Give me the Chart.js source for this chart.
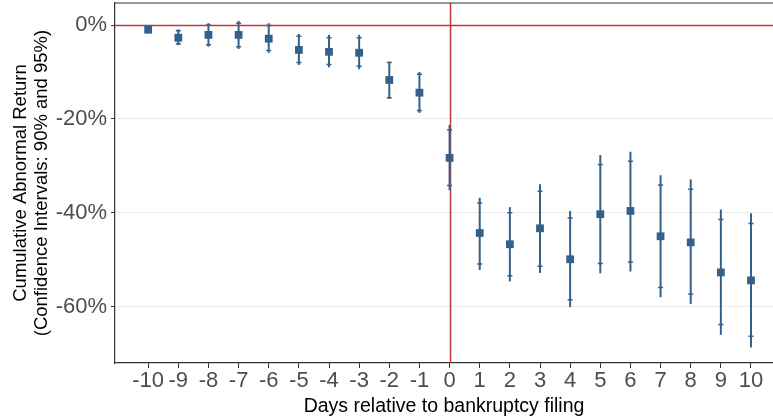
<!DOCTYPE html>
<html>
<head>
<meta charset="utf-8">
<script src="https://cdn.jsdelivr.net/npm/chart.js@4.4.0/dist/chart.umd.min.js"></script>
<style>
    html, body { margin: 0; padding: 0; background: #fff; overflow: hidden; }
    #wrap { width: 773px; height: 417px; }
</style>
</head>
<body>
<div id="wrap"><canvas id="carChart"></canvas></div>
<script>
// Days around the filing and the cumulative abnormal return (%)
const days = [-10, -9, -8, -7, -6, -5, -4, -3, -2, -1, 0, 1, 2, 3, 4, 5, 6, 7, 8, 9, 10];
const car  = [-1.0, -2.7, -2.1, -2.1, -2.9, -5.3, -5.7, -5.9, -11.7, -14.4, -28.3,
              -44.3, -46.7, -43.3, -49.9, -40.3, -39.6, -45.0, -46.3, -52.7, -54.4];
// 95% confidence interval (line)
const lo95 = [-1.4, -4.3, -4.6, -5.1, -5.9, -8.5, -9.0, -9.4, -15.7, -18.7, -35.2,
              -52.2, -54.6, -52.8, -60.1, -52.9, -52.5, -58.0, -59.4, -66.0, -68.7];
const hi95 = [-0.6, -0.9, 0.4, 0.9, 0.4, -1.9, -2.1, -2.1, -7.8, -10.0, -21.3,
              -36.8, -38.8, -33.9, -39.6, -27.7, -27.0, -32.0, -32.9, -39.3, -40.1];
// 90% confidence interval (small ticks)
const lo90 = [-1.3, -4.0, -4.2, -4.6, -5.4, -8.0, -8.4, -8.8, -15.5, -18.2, -34.2,
              -50.9, -53.4, -51.4, -58.5, -50.8, -50.5, -55.9, -57.3, -63.8, -66.3];
const hi90 = [-0.7, -1.2, 0.0, 0.4, -0.1, -2.4, -2.7, -2.7, -8.0, -10.5, -22.3,
              -37.9, -40.0, -35.4, -41.1, -29.7, -29.0, -34.1, -35.0, -41.4, -42.3];
const yTicks = [0, -20, -40, -60];

const blue = '#34618b';
const red = '#c0393b';
const fontFamily = 'Liberation Sans, Arial, sans-serif';

// red reference lines at 0 / 0 and the top edge of the panel
const refLines = {
    id: 'refLines',
    beforeDatasetsDraw(chart) {
        const { ctx, chartArea: a, scales: { x, y } } = chart;
        ctx.save();
        ctx.strokeStyle = red;
        ctx.lineWidth = 1.5;
        const y0 = Math.round(y.getPixelForValue(0)) + 0.5;
        const x0 = Math.round(x.getPixelForValue(0)) + 0.5;
        ctx.beginPath();
        ctx.moveTo(a.left, y0); ctx.lineTo(a.right, y0);
        ctx.moveTo(x0, a.top); ctx.lineTo(x0, a.bottom);
        ctx.stroke();
        ctx.restore();
    },
    afterDraw(chart) {
        const { ctx, chartArea: a } = chart;
        ctx.save();
        ctx.strokeStyle = '#333333';
        ctx.lineWidth = 1.2;
        ctx.beginPath();
        ctx.moveTo(a.left, a.top); ctx.lineTo(a.right, a.top);
        ctx.stroke();
        ctx.restore();
    }
};

// confidence interval bars
const ciBars = {
    id: 'ciBars',
    beforeDatasetsDraw(chart) {
        const { ctx, scales: { x, y } } = chart;
        ctx.save();
        ctx.strokeStyle = blue;
        days.forEach((d, i) => {
            const px = x.getPixelForValue(d);
            ctx.lineWidth = 2;
            ctx.beginPath();
            ctx.moveTo(px, y.getPixelForValue(hi95[i]));
            ctx.lineTo(px, y.getPixelForValue(lo95[i]));
            ctx.stroke();
            ctx.lineWidth = 1.5;
            ctx.beginPath();
            [lo90[i], hi90[i]].forEach(v => {
                const py = y.getPixelForValue(v);
                ctx.moveTo(px - 2.5, py); ctx.lineTo(px + 2.5, py);
            });
            ctx.stroke();
        });
        ctx.restore();
    }
};

new Chart(document.getElementById('carChart'), {
    type: 'scatter',
    data: {
        datasets: [{
            data: days.map((d, i) => ({ x: d, y: car[i] })),
            backgroundColor: blue,
            borderColor: blue,
            pointStyle: 'rect',
            pointRadius: 5.5,
            pointBorderWidth: 0,
            pointHoverRadius: 5.5
        }]
    },
    options: {
        responsive: true,
        maintainAspectRatio: false,
        animation: false,
        layout: { autoPadding: false, padding: { top: 3, right: 0, left: 0, bottom: 0 } },
        plugins: {
            legend: { display: false },
            tooltip: { enabled: false }
        },
        scales: {
            x: {
                type: 'linear',
                min: -11.1,
                max: 10.73,
                afterBuildTicks: function(scale) {
                    scale.ticks = days.map(d => ({ value: d }));
                },
                afterFit: function(scale) {
                    scale.height = 54;
                    scale.paddingLeft = 0;
                    scale.paddingRight = 0;
                },
                grid: {
                    drawOnChartArea: false,
                    tickLength: 5,
                    tickColor: '#333333'
                },
                border: { color: '#333333', width: 1.2 },
                ticks: {
                    color: '#4d4d4d',
                    font: { family: fontFamily, size: 22 },
                    padding: 0,
                    maxRotation: 0,
                    autoSkip: false,
                    callback: v => String(v)
                },
                title: {
                    display: true,
                    text: 'Days relative to bankruptcy filing',
                    color: '#000',
                    font: { family: fontFamily, size: 19.5, lineHeight: 1.1 },
                    padding: { top: 0, bottom: 0 }
                }
            },
            y: {
                min: -72,
                max: 4.7,
                afterBuildTicks: function(scale) {
                    scale.ticks = yTicks.map(v => ({ value: v }));
                },
                afterFit: function(scale) {
                    scale.width = 115;
                    scale.paddingTop = 0;
                    scale.paddingBottom = 0;
                },
                grid: {
                    color: '#ebebeb',
                    tickLength: 4,
                    tickColor: '#333333'
                },
                border: { color: '#333333', width: 1.2 },
                ticks: {
                    color: '#4d4d4d',
                    font: { family: fontFamily, size: 22 },
                    padding: 4,
                    callback: v => v + '%'
                },
                title: {
                    display: true,
                    text: ['Cumulative Abnormal Return', '(Confidence Intervals: 90% and 95%)'],
                    color: '#000',
                    font: { family: fontFamily, size: 18.5, lineHeight: 1.15 },
                    padding: { top: 10, bottom: 0 }
                }
            }
        }
    },
    plugins: [refLines, ciBars]
});
</script>
</body>
</html>
